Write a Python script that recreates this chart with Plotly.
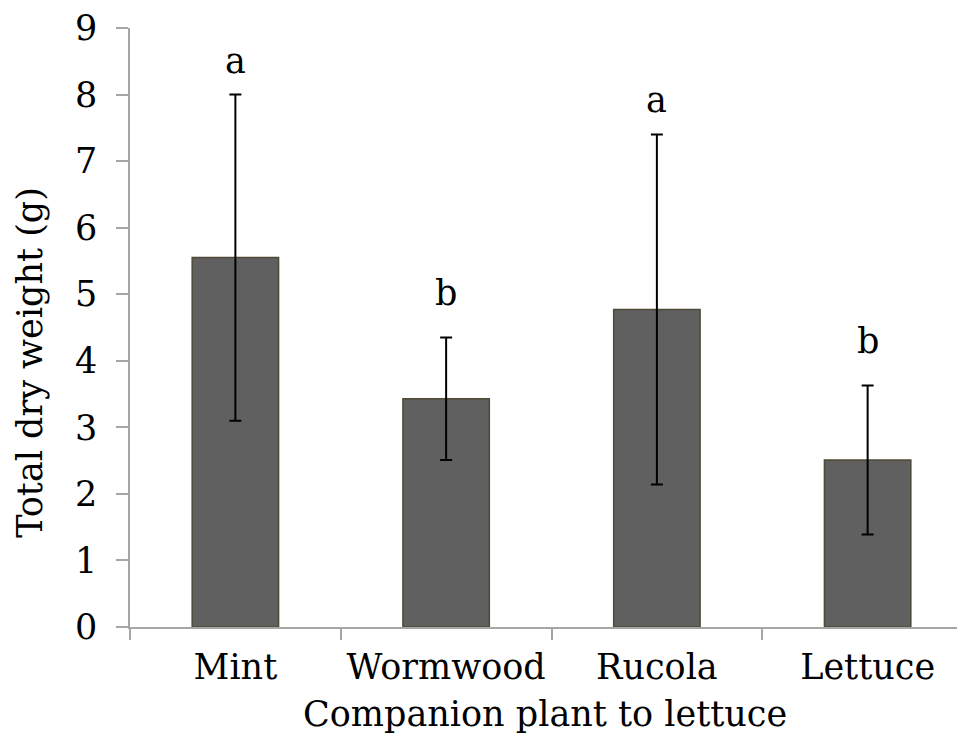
import plotly.graph_objects as go

categories = ["Mint", "Wormwood", "Rucola", "Lettuce"]
dry_weight = [5.55, 3.43, 4.77, 2.51]
std_error = [2.45, 0.92, 2.63, 1.12]
letters = ["a", "b", "a", "b"]

FONT = "DejaVu Serif"
FS = 35
AXIS_GRAY = "#a6a6a6"

fig = go.Figure()
fig.add_trace(go.Bar(
    x=categories,
    y=dry_weight,
    width=0.41,
    marker=dict(color="#606060", line=dict(color="#4f4a35", width=1.5)),
    error_y=dict(type="data", array=std_error, symmetric=True,
                 color="black", thickness=2, width=6),
    showlegend=False,
))

# significance letters above the error bars
letter_shift = {"a": 12, "b": 22}
for cat, v, e, lab in zip(categories, dry_weight, std_error, letters):
    fig.add_annotation(x=cat, y=v + e, text=lab, showarrow=False,
                       yanchor="bottom", yshift=letter_shift[lab],
                       font=dict(family=FONT, size=FS, color="black"))

fig.add_annotation(x=-0.1186, xref="paper", y=0.441, yref="paper",
                   text="Total dry weight (g)", textangle=-90, showarrow=False,
                   xanchor="center", yanchor="middle",
                   font=dict(family=FONT, size=FS, color="black"))
fig.add_annotation(x=0.492, xref="paper", y=-0.146, yref="paper",
                   text="Companion plant to lettuce", showarrow=False,
                   xanchor="center", yanchor="middle",
                   font=dict(family=FONT, size=FS, color="black"))

fig.update_layout(
    width=965, height=745, autosize=False,
    margin=dict(l=122, r=0, t=18, b=126),
    plot_bgcolor="white", paper_bgcolor="white",
    font=dict(family=FONT, size=FS, color="black"),
)
fig.update_xaxes(
    type="category", range=[-0.5, 3.5],
    showline=True, linecolor=AXIS_GRAY, linewidth=1.5,
    ticks="outside", tickson="boundaries", ticklen=11, tickcolor=AXIS_GRAY, tickwidth=1.5,
    showgrid=False, zeroline=False, ticklabelstandoff=8,
    tickfont=dict(family=FONT, size=FS, color="black"),
)
fig.update_yaxes(
    range=[0, 9], dtick=1,
    showline=True, linecolor=AXIS_GRAY, linewidth=1.5,
    ticks="outside", ticklen=12, tickcolor=AXIS_GRAY, tickwidth=1.5,
    showgrid=False, zeroline=False, ticklabelstandoff=12,
    ticklabeloverflow="allow",
    tickfont=dict(family=FONT, size=FS, color="black"),
)

fig.write_html("out.html")
